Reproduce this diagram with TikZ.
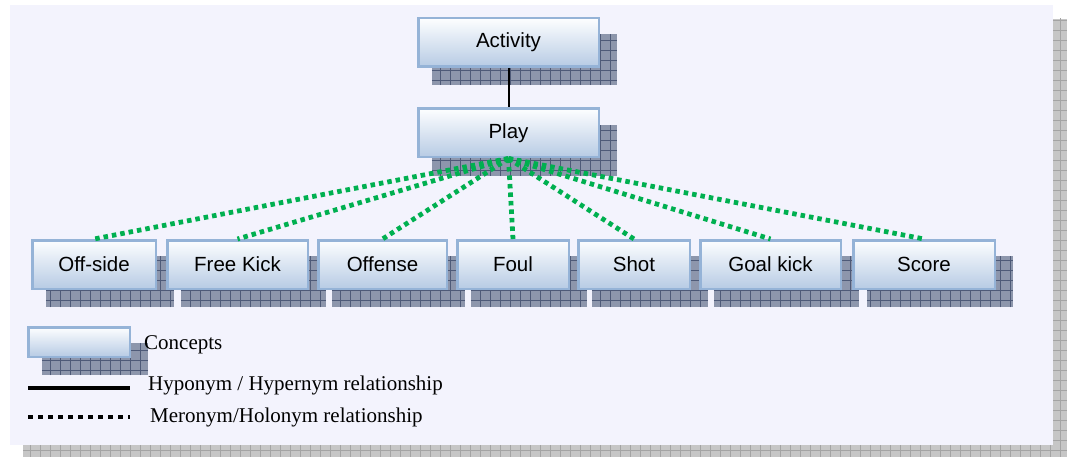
\documentclass[tikz,border=0pt]{standalone}
\usepackage{fontspec}
\setmainfont{Liberation Serif}
\newfontfamily\boxfont{Liberation Sans}
\usetikzlibrary{calc}
\definecolor{panelfill}{HTML}{F3F3FD}
\definecolor{panelshade}{HTML}{C6C6C6}
\definecolor{panelgrid}{HTML}{A4A4A4}
\definecolor{boxshade}{HTML}{8D96AC}
\definecolor{boxgrid}{HTML}{4E5A78}
\definecolor{boxedge}{HTML}{95B3D7}
\definecolor{boxtop}{HTML}{FDFEFF}
\definecolor{boxmid}{HTML}{E4EBF5}
\definecolor{boxbottom}{HTML}{B7CBE4}
\definecolor{partgreen}{HTML}{00B050}
\pgfdeclarelayer{panel}
\pgfdeclarelayer{shade}
\pgfsetlayers{panel,shade,main}
\tikzset{
  concept/.style={draw=boxedge, line width=2.5pt, top color=boxtop, middle color=boxmid,
    bottom color=boxbottom, minimum height=48.5pt, inner sep=0pt,
    font=\boxfont\fontsize{20.5}{24}\selectfont, text=black},
  legendtext/.style={anchor=base west, inner sep=0pt, font=\fontsize{21}{25}\selectfont},
  isa/.style={draw=black, line width=2pt},
  partof/.style={draw=partgreen, line width=4.8pt, dash pattern=on 4.5pt off 4pt},
  legendisa/.style={draw=black, line width=4pt},
  legendpart/.style={draw=black, line width=4pt, dash pattern=on 5pt off 5pt},
}
\begin{document}
\begin{tikzpicture}[x=1pt, y=-1pt]
\useasboundingbox (0,0) rectangle (1067,457);

% concept boxes
\node[concept, minimum width=180.5pt] (activity) at (508.5,42.5) {\raisebox{-1.5pt}{Activity}};
\node[concept, minimum width=180.5pt] (play) at (508.5,133) {\raisebox{-1.5pt}{Play}};
\node[concept, minimum width=123.5pt] (offside) at (94,264.5) {Off-side\hspace{8pt}};
\node[concept, minimum width=140.5pt] (freekick) at (237.5,264.5) {Free Kick\hspace{8pt}};
\node[concept, minimum width=128.5pt] (offense) at (382.5,264.5) {Offense};
\node[concept, minimum width=111.5pt] (foul) at (513,264.5) {Foul};
\node[concept, minimum width=111.5pt] (shot) at (634,264.5) {Shot};
\node[concept, minimum width=140.5pt] (goalkick) at (770.5,264.5) {Goal kick};
\node[concept, minimum width=141.5pt] (score) at (924,264.5) {Score};

% legend
\node[concept, minimum width=101.5pt, minimum height=29.5pt] (legendbox) at (79,342) {};
\node[legendtext] (lconcepts) at (144,349) {Concepts};
\coordinate (isaA) at (28,388);
\coordinate (isaB) at (130,388);
\coordinate (partA) at (28,417);
\coordinate (partB) at (130,417);
\draw[legendisa] (isaA) -- (isaB);
\draw[legendpart] (partA) -- (partB);
\node[legendtext] (lisa) at (148,390) {Hyponym / Hypernym relationship};
\node[legendtext] (lpart) at (150,422) {Meronym/Holonym relationship};

% hyponym link
\draw[isa] (activity.south) -- (play.north);

% meronym links
\foreach \n in {offside,freekick,offense,foul,shot,goalkick,score}
  \draw[partof] (play.south) -- (\n.north);

% hatched drop shadows behind the boxes
\begin{pgfonlayer}{shade}
\foreach \n in {activity,play,offside,freekick,offense,foul,shot,goalkick,score,legendbox}{
  \path ([shift={(14.75,17.25)}]\n.north west) coordinate (sA)
        ([shift={(17.25,17.25)}]\n.south east) coordinate (sB);
  \fill[boxshade] (sA) rectangle (sB);
  \begin{scope}
    \clip (sA) rectangle (sB);
    \draw[boxgrid, line width=0.8pt, step=10pt] (sA) grid (sB);
  \end{scope}
}
\end{pgfonlayer}

% backdrop panel with its own shadow
\begin{pgfonlayer}{panel}
  \fill[panelshade] (23,19) rectangle (1067,457);
  \begin{scope}
    \clip (23,19) rectangle (1067,457);
    \draw[panelgrid, line width=0.8pt, step=10pt] (20,10) grid (1070,460);
  \end{scope}
  \fill[panelfill] (10,5) rectangle (1053,445);
\end{pgfonlayer}
\end{tikzpicture}
\end{document}
